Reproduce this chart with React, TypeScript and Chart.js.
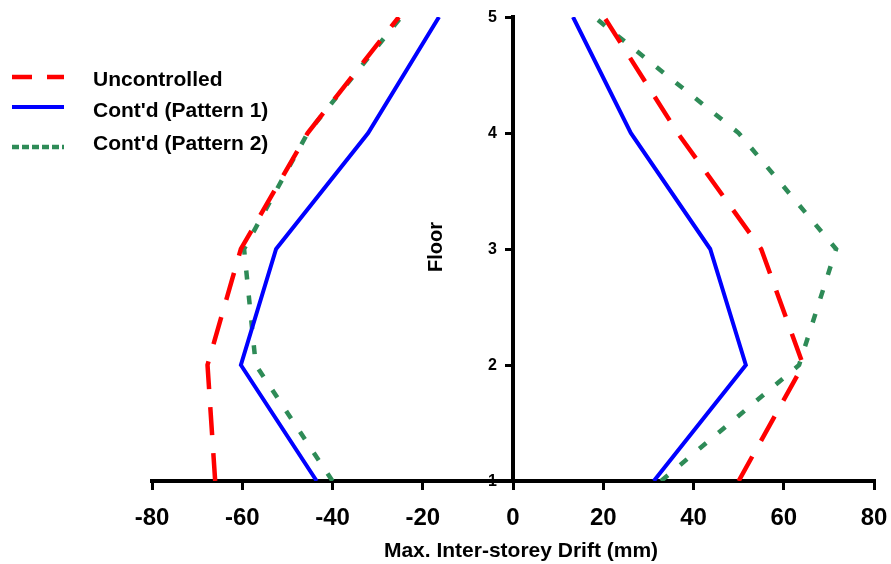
import { useEffect, useRef } from 'react';
import { Chart, registerables } from 'chart.js';

Chart.register(...registerables);

// Storey levels (y) and peak drifts in mm (x), negative and positive excursions
const floors = [1, 2, 3, 4, 5];

const uncontrolledNeg = [-66, -67.7, -60.3, -45.5, -25.3];
const uncontrolledPos = [50, 64.3, 55, 36.5, 20.2];

const pattern1Neg = [-43.5, -60.3, -52.5, -32.1, -16.4];
const pattern1Pos = [31.2, 51.6, 43.7, 26.1, 13.3];

const pattern2Neg = [-40, -57, -59.6, -45.5, -24.8];
const pattern2Pos = [32.8, 63.4, 71.6, 50, 18];

const seriesNames = ['Uncontrolled', "Cont'd (Pattern 1)", "Cont'd (Pattern 2)"];
const xTickValues = [-80, -60, -40, -20, 0, 20, 40, 60, 80];
const yTickValues = [1, 2, 3, 4, 5];

const xTitle = 'Max. Inter-storey Drift (mm)';
const yTitle = 'Floor';

const FONT = '"Liberation Sans", Arial, sans-serif';

type Style = { color: string; width: number; dash: number[]; legendDash: number[] };

const styles: Style[] = [
  { color: '#ff0000', width: 4.5, dash: [28, 18], legendDash: [20, 15] },
  { color: '#0000ff', width: 4, dash: [], legendDash: [] },
  { color: '#2e8b57', width: 4.5, dash: [9, 16], legendDash: [7, 3] },
];

const toPoints = (xs: number[]) => xs.map((x, i) => ({ x, y: floors[i] }));

const branches: [number, number[]][] = [
  [0, uncontrolledNeg],
  [0, uncontrolledPos],
  [1, pattern1Neg],
  [1, pattern1Pos],
  [2, pattern2Neg],
  [2, pattern2Pos],
];

// Floor tick labels, legend and axis titles drawn directly on the canvas
const decorations = {
  id: 'decorations',
  afterDraw(chart: Chart) {
    const ctx = chart.ctx;
    const area = chart.chartArea;
    const xScale = chart.scales.x;
    const yScale = chart.scales.y;
    const axisX = xScale.getPixelForValue(0);
    ctx.save();
    ctx.fillStyle = '#000';

    // floor tick labels, left of the central axis
    ctx.font = `bold 16px ${FONT}`;
    ctx.textAlign = 'right';
    ctx.textBaseline = 'middle';
    yScale.ticks.forEach((t) => {
      ctx.fillText(String(t.value), axisX - 16, yScale.getPixelForValue(t.value) + 1);
    });

    // x-axis title
    ctx.font = `bold 21px ${FONT}`;
    ctx.textAlign = 'center';
    ctx.fillText(xTitle, (area.left + area.right) / 2 + 8, 551);

    // y-axis title, reading bottom to top
    ctx.save();
    ctx.translate(436, (area.top + area.bottom) / 2 - 2);
    ctx.rotate(-Math.PI / 2);
    ctx.font = `bold 20px ${FONT}`;
    ctx.fillText(yTitle, 0, 0);
    ctx.restore();

    // legend
    const lineYs = [77, 107, 147];
    const textYs = [80, 111, 144];
    ctx.font = `bold 21px ${FONT}`;
    ctx.textAlign = 'left';
    seriesNames.forEach((name, i) => {
      const s = styles[i];
      ctx.beginPath();
      ctx.strokeStyle = s.color;
      ctx.lineWidth = s.width;
      ctx.setLineDash(s.legendDash);
      ctx.moveTo(12, lineYs[i]);
      ctx.lineTo(64, lineYs[i]);
      ctx.stroke();
      ctx.setLineDash([]);
      ctx.fillStyle = '#000';
      ctx.fillText(name, 93, textYs[i]);
    });
    ctx.restore();
  },
};

export default function App() {
  const canvasRef = useRef<HTMLCanvasElement | null>(null);

  useEffect(() => {
    const canvas = canvasRef.current;
    if (!canvas) return;

    const chart = new Chart(canvas, {
      type: 'scatter',
      data: {
        datasets: branches.map(([s, xs]) => ({
          label: seriesNames[s],
          data: toPoints(xs),
          showLine: true,
          borderColor: styles[s].color,
          backgroundColor: styles[s].color,
          borderWidth: styles[s].width,
          borderDash: styles[s].dash,
          pointRadius: 0,
          pointHoverRadius: 0,
          tension: 0,
        })),
      },
      options: {
        responsive: false,
        animation: false,
        events: [],
        layout: { autoPadding: false, padding: { left: 152, right: 17, top: 17, bottom: 83 } },
        plugins: {
          legend: { display: false },
          tooltip: { enabled: false },
          title: { display: false },
        },
        scales: {
          x: {
            type: 'linear',
            min: -80,
            max: 80,
            position: { y: 1 } as any,
            afterBuildTicks: (scale: any) => {
              scale.ticks = xTickValues.map((value) => ({ value }));
            },
            ticks: {
              color: '#000',
              font: { family: FONT, size: 24, weight: 'bold', lineHeight: 2.25 },
              padding: 3,
              maxRotation: 0,
            },
            grid: {
              drawOnChartArea: false,
              drawTicks: true,
              tickLength: 7,
              color: '#000',
              lineWidth: 3,
            },
            border: { display: true, color: '#000', width: 4 },
          },
          y: {
            type: 'linear',
            min: 1,
            max: 5,
            position: { x: 0 } as any,
            afterBuildTicks: (scale: any) => {
              scale.ticks = yTickValues.map((value) => ({ value }));
            },
            ticks: { display: false },
            grid: {
              drawOnChartArea: false,
              drawTicks: true,
              tickLength: 6,
              color: '#000',
              lineWidth: 3,
            },
            border: { display: true, color: '#000', width: 4 },
          },
        },
      },
      plugins: [decorations],
    });

    return () => chart.destroy();
  }, []);

  return (
    <div style={{ position: 'absolute', left: 0, top: 0, width: 891, height: 564, background: '#fff' }}>
      <canvas ref={canvasRef} width={891} height={564} style={{ width: 891, height: 564, display: 'block' }} />
    </div>
  );
}
